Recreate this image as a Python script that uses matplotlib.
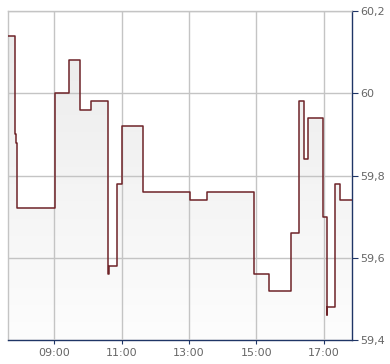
import numpy as np
import matplotlib
matplotlib.use('Agg')
import matplotlib.pyplot as plt
from matplotlib.ticker import FixedLocator, FuncFormatter

# step changes (time, price)
times = ["07:38", "07:51", "07:53", "07:54", "09:02", "09:27", "09:46", "10:06",
         "10:36", "10:37", "10:52", "11:00", "11:01", "11:38", "13:02", "13:32",
         "14:56", "15:23", "16:02", "16:16", "16:25", "16:32", "16:59", "17:05",
         "17:06", "17:19", "17:28", "17:50"]
prices = [60.14, 59.90, 59.88, 59.72, 60.00, 60.08, 59.96, 59.98,
          59.56, 59.58, 59.78, 59.90, 59.92, 59.76, 59.74, 59.76,
          59.56, 59.52, 59.66, 59.98, 59.84, 59.94, 59.70, 59.46,
          59.48, 59.78, 59.74, 59.74]

x_ticks = ["09:00", "11:00", "13:00", "15:00", "17:00"]
y_ticks = [59.4, 59.6, 59.8, 60.0, 60.2]


def to_hours(s):
    h, m = s.split(":")
    return int(h) + int(m) / 60.0


x = np.array([to_hours(t) for t in times])
y = np.array(prices)

navy = "#1f3566"
grid = "#c4c4c4"
line = "#6e2328"

fig = plt.figure(figsize=(3.9, 3.64), dpi=100)
ax = fig.add_axes([8 / 390, 24 / 364, 344 / 390, 329 / 364])

x0, x1 = x[0], x[-1]
ax.set_xlim(x0, x1)
ax.set_ylim(y_ticks[0], y_ticks[-1])

# gradient fill under the step line
poly = ax.fill_between(x, y, y_ticks[0], step="post", color="none", lw=0)
grad = np.linspace(0, 1, 256).reshape(-1, 1)
cmap = matplotlib.colors.LinearSegmentedColormap.from_list("g", ["#fdfdfd", "#eaeaea"])
img = ax.imshow(grad, cmap=cmap, aspect="auto", origin="lower",
                extent=[x0, x1, y_ticks[0], y_ticks[-1]], zorder=1)
img.set_clip_path(poly.get_paths()[0], transform=ax.transData)

ax.step(x, y, where="post", color=line, lw=1.1, zorder=3)

ax.xaxis.set_major_locator(FixedLocator([to_hours(t) for t in x_ticks]))
ax.xaxis.set_major_formatter(FuncFormatter(lambda v, p: "%02d:00" % round(v)))
ax.yaxis.set_major_locator(FixedLocator(y_ticks))
ax.yaxis.set_major_formatter(FuncFormatter(lambda v, p: ("%g" % round(v, 1)).replace(".", ",")))
ax.yaxis.tick_right()

ax.grid(True, color=grid, lw=1, zorder=2)
ax.set_axisbelow(False)

for side in ("top", "left"):
    ax.spines[side].set_color(grid)
    ax.spines[side].set_linewidth(1)
for side in ("bottom", "right"):
    ax.spines[side].set_color(navy)
    ax.spines[side].set_linewidth(1)

ax.tick_params(axis="x", colors=navy, labelcolor="#666666", length=3,
               labelsize=8, pad=3)
ax.tick_params(axis="y", colors=navy, labelcolor="#666666", length=4,
               labelsize=8, pad=2)

fig.savefig("out.png", dpi=100)
